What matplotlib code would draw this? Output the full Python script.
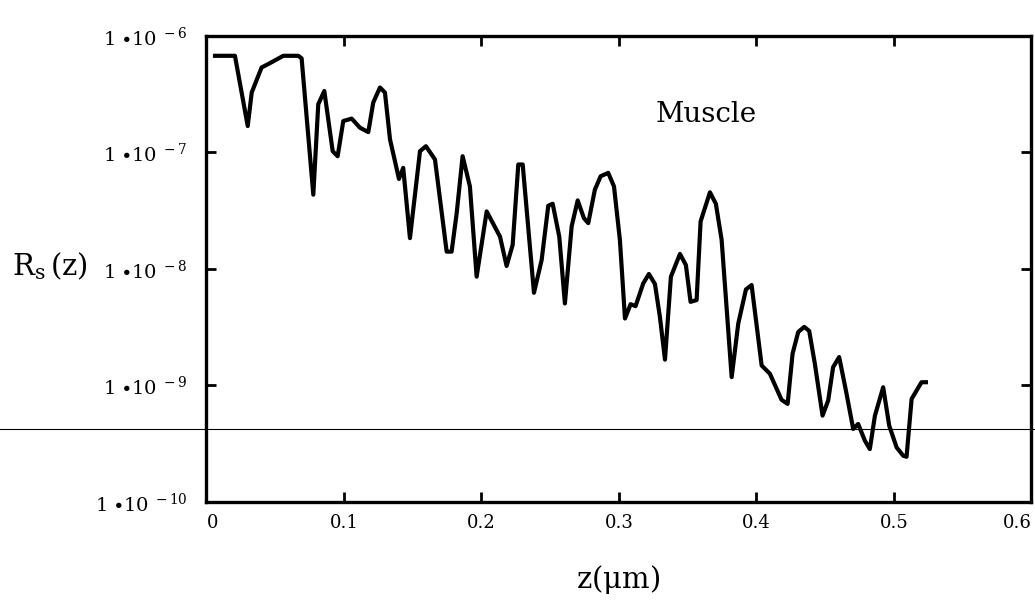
import numpy as np
import matplotlib
matplotlib.use('Agg')
import matplotlib.pyplot as plt

plt.rcParams['font.family'] = ['DejaVu Serif']
plt.rcParams['mathtext.fontset'] = 'dejavuserif'

# depth z in micrometres
z_um = [0.0062, 0.0207, 0.0300, 0.0329, 0.0401, 0.0449, 0.0559, 0.0668, 0.0692,
        0.0777, 0.0813, 0.0857, 0.0918, 0.0954, 0.0995, 0.1056, 0.1116, 0.1177,
        0.1213, 0.1262, 0.1298, 0.1335, 0.1400, 0.1431, 0.1480, 0.1553, 0.1596,
        0.1662, 0.1747, 0.1783, 0.1820, 0.1863, 0.1916, 0.1965, 0.2038, 0.2135,
        0.2183, 0.2227, 0.2268, 0.2300, 0.2382, 0.2438, 0.2486, 0.2518, 0.2566,
        0.2607, 0.2656, 0.2700, 0.2745, 0.2777, 0.2825, 0.2867, 0.2922, 0.2964,
        0.3007, 0.3044, 0.3085, 0.3121, 0.3177, 0.3218, 0.3262, 0.3298, 0.3335,
        0.3378, 0.3444, 0.3487, 0.3521, 0.3565, 0.3594, 0.3662, 0.3705, 0.3747,
        0.3820, 0.3868, 0.3924, 0.3965, 0.4038, 0.4098, 0.4183, 0.4227, 0.4263,
        0.4304, 0.4348, 0.4384, 0.4425, 0.4481, 0.4522, 0.4558, 0.4602, 0.4651,
        0.4704, 0.4740, 0.4789, 0.4825, 0.4862, 0.4922, 0.4966, 0.5020, 0.5068,
        0.5092, 0.5129, 0.5201, 0.5233]

# log10 of Rs(z)
log_rs = [-6.170, -6.170, -6.773, -6.485, -6.270, -6.241, -6.170, -6.170, -6.192,
          -7.362, -6.586, -6.472, -6.989, -7.032, -6.730, -6.709, -6.787, -6.825,
          -6.571, -6.442, -6.485, -6.888, -7.227, -7.132, -7.735, -6.989, -6.946,
          -7.060, -7.851, -7.851, -7.520, -7.032, -7.291, -8.066, -7.506, -7.722,
          -7.974, -7.793, -7.103, -7.103, -8.204, -7.922, -7.457, -7.440, -7.722,
          -8.296, -7.635, -7.411, -7.563, -7.606, -7.319, -7.204, -7.175, -7.291,
          -7.750, -8.425, -8.302, -8.319, -8.123, -8.043, -8.129, -8.411, -8.778,
          -8.066, -7.871, -7.966, -8.282, -8.267, -7.592, -7.342, -7.440, -7.750,
          -8.928, -8.468, -8.175, -8.138, -8.828, -8.899, -9.123, -9.158, -8.727,
          -8.541, -8.497, -8.532, -8.813, -9.259, -9.129, -8.842, -8.756, -9.043,
          -9.373, -9.330, -9.474, -9.546, -9.259, -9.015, -9.345, -9.532, -9.603,
          -9.612, -9.115, -8.972, -8.972]

ref_level = 10 ** -9.371   # thin horizontal line across the page

x_ticks = [0, 0.1, 0.2, 0.3, 0.4, 0.5, 0.6]
x_labels = ['0', '0.1', '0.2', '0.3', '0.4', '0.5', '0.6']
y_exps = [-10, -9, -8, -7, -6]

rs = 10 ** np.array(log_rs)

fig = plt.figure(figsize=(10.35, 6.04), dpi=100)
ax = fig.add_axes([0.1995, 0.1689, 0.797, 0.7715])

ax.plot(z_um, rs, color='black', lw=3.0, solid_joinstyle='round')
ax.set_yscale('log')
ax.set_xlim(0, 0.6)
ax.set_ylim(1e-10, 1e-6)

ax.axhline(ref_level, xmin=-0.26, xmax=1.01, color='black', lw=0.8, clip_on=False)

for s in ax.spines.values():
    s.set_linewidth(2.4)

ax.set_xticks(x_ticks)
ax.set_xticklabels(x_labels, fontsize=13)
xl = ax.get_xticklabels()
xl[0].set_horizontalalignment('left')
xl[-1].set_horizontalalignment('right')
ax.set_yticks([10.0 ** e for e in y_exps])
ax.set_yticklabels([r'$1\ {\bullet}10^{\ %d}$' % e for e in y_exps], fontsize=14)
ax.yaxis.set_minor_locator(matplotlib.ticker.NullLocator())
ax.tick_params(direction='in', length=7, width=2, top=True, right=True)
ax.tick_params(axis='x', pad=9)
ax.tick_params(axis='y', pad=14)

fig.text(0.012, 0.56, r'$\mathrm{R_s\,(z)}$', fontsize=21, ha='left', va='center')
fig.text(0.597, 0.04, r'$\mathrm{z(\mu m)}$', fontsize=21, ha='center', va='center')
ax.text(0.544, 0.832, 'Muscle', transform=ax.transAxes, fontsize=20,
        ha='left', va='center')

fig.savefig('out.png', dpi=100)
